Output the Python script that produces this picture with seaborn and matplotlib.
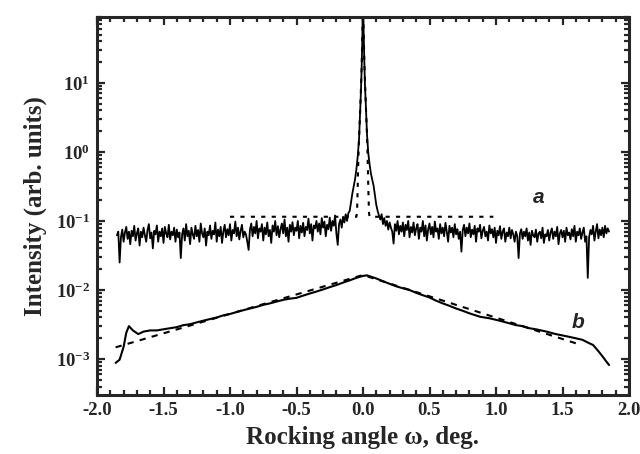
import numpy as np
import pandas as pd
import matplotlib
matplotlib.use("Agg")
import matplotlib.pyplot as plt
import seaborn as sns
from matplotlib.ticker import MultipleLocator, LogLocator, LogFormatterMathtext, NullFormatter

# ---------------- data ----------------
# curve a (solid, noisy): left background, central peak, right background
a_step = 0.01
a_left_start = -1.85
a_left = [0.062, 0.07, 0.025, 0.058, 0.075, 0.05, 0.068, 0.082, 0.055, 0.07,
          0.046, 0.072, 0.06, 0.085, 0.052, 0.066, 0.078, 0.044, 0.07, 0.058,
          0.08, 0.062, 0.05, 0.074, 0.09, 0.056, 0.068, 0.04, 0.072, 0.064,
          0.086, 0.05, 0.07, 0.06, 0.078, 0.048, 0.082, 0.066, 0.058, 0.088,
          0.054, 0.07, 0.062, 0.08, 0.05, 0.075, 0.058, 0.068, 0.029, 0.064,
          0.078, 0.052, 0.09, 0.06, 0.072, 0.046, 0.08, 0.064, 0.055, 0.085,
          0.06, 0.074, 0.05, 0.092, 0.066, 0.058, 0.078, 0.044, 0.07, 0.062,
          0.086, 0.055, 0.072, 0.064, 0.095, 0.05, 0.075, 0.06, 0.082, 0.048,
          0.07, 0.088, 0.058, 0.076, 0.062, 0.09, 0.052, 0.074, 0.066, 0.098,
          0.06, 0.08, 0.054, 0.072, 0.088, 0.058, 0.07, 0.064, 0.05, 0.038,
          0.075, 0.092, 0.06, 0.082, 0.066, 0.1, 0.056, 0.078, 0.07, 0.09,
          0.052, 0.08, 0.064, 0.095, 0.06, 0.074, 0.048, 0.086, 0.07, 0.1,
          0.062, 0.084, 0.058, 0.076, 0.092, 0.066, 0.105, 0.06, 0.08, 0.05,
          0.088, 0.07, 0.096, 0.062, 0.08, 0.072, 0.1, 0.056, 0.085, 0.068,
          0.094, 0.06, 0.082, 0.074, 0.108, 0.066, 0.09, 0.052, 0.086, 0.078,
          0.1, 0.07, 0.092, 0.064, 0.11, 0.08, 0.098, 0.06, 0.088, 0.076,
          0.112, 0.072, 0.1, 0.085, 0.12, 0.066, 0.045, 0.09, 0.105, 0.08,
          0.115, 0.095, 0.125, 0.1, 0.13]
a_peak_omega = [-0.10, -0.08, -0.06, -0.05, -0.04, -0.03, -0.02, -0.015, -0.01, -0.005,
                0.0, 0.005, 0.01, 0.015, 0.02, 0.03, 0.04, 0.05, 0.06, 0.08, 0.10]
a_peak = [0.14, 0.25, 0.4, 0.55, 0.85, 1.5, 4.5, 8.0, 17.0, 45.0,
          150.0, 50.0, 20.0, 9.0, 5.5, 1.8, 0.95, 0.65, 0.48, 0.32, 0.17]
a_right_start = 0.11
a_right = [0.14, 0.12, 0.105, 0.125, 0.09, 0.11, 0.085, 0.1, 0.075, 0.095,
           0.08, 0.07, 0.047, 0.09, 0.072, 0.1, 0.064, 0.085, 0.07, 0.095,
           0.06, 0.088, 0.074, 0.1, 0.058, 0.082, 0.068, 0.095, 0.062, 0.078,
           0.09, 0.055, 0.08, 0.07, 0.1, 0.06, 0.086, 0.052, 0.076, 0.092,
           0.064, 0.082, 0.058, 0.098, 0.07, 0.078, 0.055, 0.09, 0.066, 0.08,
           0.06, 0.094, 0.07, 0.05, 0.085, 0.068, 0.08, 0.058, 0.09, 0.064,
           0.076, 0.055, 0.07, 0.036, 0.074, 0.088, 0.06, 0.08, 0.066, 0.092,
           0.058, 0.075, 0.064, 0.085, 0.05, 0.078, 0.07, 0.088, 0.056, 0.072,
           0.082, 0.06, 0.07, 0.052, 0.086, 0.066, 0.076, 0.058, 0.08, 0.048,
           0.072, 0.062, 0.084, 0.055, 0.07, 0.078, 0.05, 0.068, 0.06, 0.08,
           0.056, 0.074, 0.064, 0.05, 0.07, 0.06, 0.029, 0.066, 0.076, 0.055,
           0.07, 0.06, 0.078, 0.052, 0.068, 0.045, 0.072, 0.062, 0.058, 0.075,
           0.05, 0.066, 0.07, 0.056, 0.08, 0.048, 0.064, 0.06, 0.074, 0.052,
           0.068, 0.078, 0.055, 0.07, 0.06, 0.082, 0.046, 0.066, 0.074, 0.058,
           0.072, 0.05, 0.08, 0.062, 0.068, 0.054, 0.076, 0.06, 0.085, 0.05,
           0.07, 0.062, 0.078, 0.055, 0.068, 0.08, 0.05, 0.06, 0.015, 0.058,
           0.074, 0.064, 0.085, 0.052, 0.07, 0.09, 0.056, 0.075, 0.062, 0.08,
           0.058, 0.085, 0.066, 0.078, 0.07]

# fit of curve a (dotted)
fit_a_omega = [-1.0, -0.05, -0.045, -0.04, -0.035, -0.03, -0.02, -0.01, 0.0,
               0.01, 0.02, 0.03, 0.035, 0.04, 0.045, 0.05, 0.98]
fit_a = [0.115, 0.115, 0.13, 0.3, 0.8, 1.5, 4.5, 17.0, 150.0,
         20.0, 5.5, 1.8, 0.8, 0.3, 0.13, 0.115, 0.115]

# curve b (solid, smooth)
b_omega = [-1.86, -1.83, -1.80, -1.78, -1.76, -1.73, -1.69, -1.65, -1.60, -1.55,
           -1.50, -1.45, -1.40, -1.35, -1.30, -1.25, -1.20, -1.15, -1.10, -1.05,
           -1.00, -0.95, -0.90, -0.85, -0.80, -0.75, -0.70, -0.65, -0.60, -0.55,
           -0.50, -0.45, -0.40, -0.35, -0.30, -0.25, -0.20, -0.15, -0.10, -0.05,
           0.00, 0.03, 0.06, 0.10, 0.15, 0.20, 0.25, 0.30, 0.35, 0.40,
           0.45, 0.50, 0.55, 0.60, 0.65, 0.70, 0.75, 0.80, 0.88, 0.95,
           1.00, 1.05, 1.10, 1.15, 1.20, 1.25, 1.30, 1.38, 1.45, 1.50,
           1.55, 1.60, 1.65, 1.70, 1.73, 1.77, 1.80, 1.83, 1.85]
b_vals = [0.00088, 0.00098, 0.0015, 0.0024, 0.0030, 0.0026, 0.0023, 0.0025, 0.0026, 0.0026,
          0.0027, 0.0028, 0.0029, 0.0031, 0.0032, 0.0034, 0.0036, 0.0038, 0.0040, 0.0043,
          0.0045, 0.0048, 0.0051, 0.0054, 0.0057, 0.0061, 0.0064, 0.0068, 0.0072, 0.0075,
          0.0077, 0.0083, 0.0089, 0.0095, 0.0102, 0.0110, 0.0118, 0.0128, 0.0138, 0.0150,
          0.0160, 0.0163, 0.0156, 0.0147, 0.0134, 0.0123, 0.0113, 0.0106, 0.0100, 0.0091,
          0.0084, 0.0078, 0.0070, 0.0064, 0.0059, 0.0054, 0.0050, 0.0046, 0.0041, 0.0039,
          0.0037, 0.0035, 0.0033, 0.0031, 0.0030, 0.0028, 0.0027, 0.0025, 0.0023, 0.0022,
          0.0021, 0.0020, 0.0019, 0.0017, 0.0016, 0.0013, 0.0011, 0.00092, 0.00082]

# fit of curve b (dashed)
fit_b_omega = [-1.86, 0.0, 1.64]
fit_b = [0.00148, 0.0165, 0.0016]

xticks = [-2.0, -1.5, -1.0, -0.5, 0.0, 0.5, 1.0, 1.5, 2.0]
label_a_pos = (1.32, 0.22)
label_b_pos = (1.62, 0.0034)

# ---------------- build frames ----------------
a_omega = ([round(a_left_start + a_step * i, 3) for i in range(len(a_left))]
           + a_peak_omega
           + [round(a_right_start + a_step * i, 3) for i in range(len(a_right))])
a_vals = a_left + a_peak + a_right
df_a = pd.DataFrame({"omega": a_omega, "I": a_vals})
df_fa = pd.DataFrame({"omega": fit_a_omega, "I": fit_a})
df_b = pd.DataFrame({"omega": b_omega, "I": b_vals})
df_fb = pd.DataFrame({"omega": fit_b_omega, "I": fit_b})

# ---------------- style ----------------
sns.set_style("ticks")
plt.rcParams["font.family"] = ["Liberation Serif", "DejaVu Serif"]
plt.rcParams["font.weight"] = "bold"
plt.rcParams["axes.unicode_minus"] = False
plt.rcParams["mathtext.fontset"] = "custom"
plt.rcParams["mathtext.rm"] = "Liberation Serif:bold"
plt.rcParams["mathtext.bf"] = "Liberation Serif:bold"
plt.rcParams["mathtext.it"] = "Liberation Serif:bold:italic"
plt.rcParams["mathtext.default"] = "bf"

fig = plt.figure(figsize=(6.4, 4.54), dpi=100)
ax = fig.add_axes([97 / 640, 1 - 395 / 454, (629 - 97) / 640, (395 - 16.7) / 454])

sns.lineplot(data=df_a, x="omega", y="I", ax=ax, color="black", lw=1.3, estimator=None)
sns.lineplot(data=df_fa, x="omega", y="I", ax=ax, color="black", lw=1.5,
             linestyle=(0, (2, 3)), estimator=None)
sns.lineplot(data=df_b, x="omega", y="I", ax=ax, color="black", lw=1.5, estimator=None)
sns.lineplot(data=df_fb, x="omega", y="I", ax=ax, color="black", lw=1.5,
             linestyle=(0, (3, 3)), estimator=None)

ax.set_yscale("log")
ax.set_xlim(-2.0, 2.0)
ax.set_ylim(10 ** -3.52, 10 ** 1.957)

ax.set_xticks(xticks)
ax.set_xticklabels([f"{t:.1f}" for t in xticks])
ax.xaxis.set_minor_locator(MultipleLocator(0.1))
ax.yaxis.set_major_locator(LogLocator(base=10, numticks=20))
ax.yaxis.set_major_formatter(LogFormatterMathtext())
ax.yaxis.set_minor_locator(LogLocator(base=10, subs=np.arange(2, 10), numticks=20))
ax.yaxis.set_minor_formatter(NullFormatter())

ax.tick_params(which="both", direction="in", top=True, right=True, width=1.6,
               labelsize=13.5, pad=5)
ax.tick_params(which="major", length=6)
ax.tick_params(which="minor", length=3.5)
for lab in ax.get_xticklabels() + ax.get_yticklabels():
    lab.set_fontweight("bold")
for sp in ax.spines.values():
    sp.set_linewidth(2.2)

ax.set_xlabel("Rocking angle ω, deg.", fontsize=18, fontweight="bold", labelpad=5)
ax.set_ylabel("Intensity (arb. units)", fontsize=18, fontweight="bold", labelpad=6)

ax.text(*label_a_pos, "a", fontsize=15, fontweight="bold", style="italic",
        family=["Liberation Sans", "DejaVu Sans"], ha="center", va="center")
ax.text(*label_b_pos, "b", fontsize=15, fontweight="bold", style="italic",
        family=["Liberation Sans", "DejaVu Sans"], ha="center", va="center")

fig.savefig("out.png", dpi=100)
